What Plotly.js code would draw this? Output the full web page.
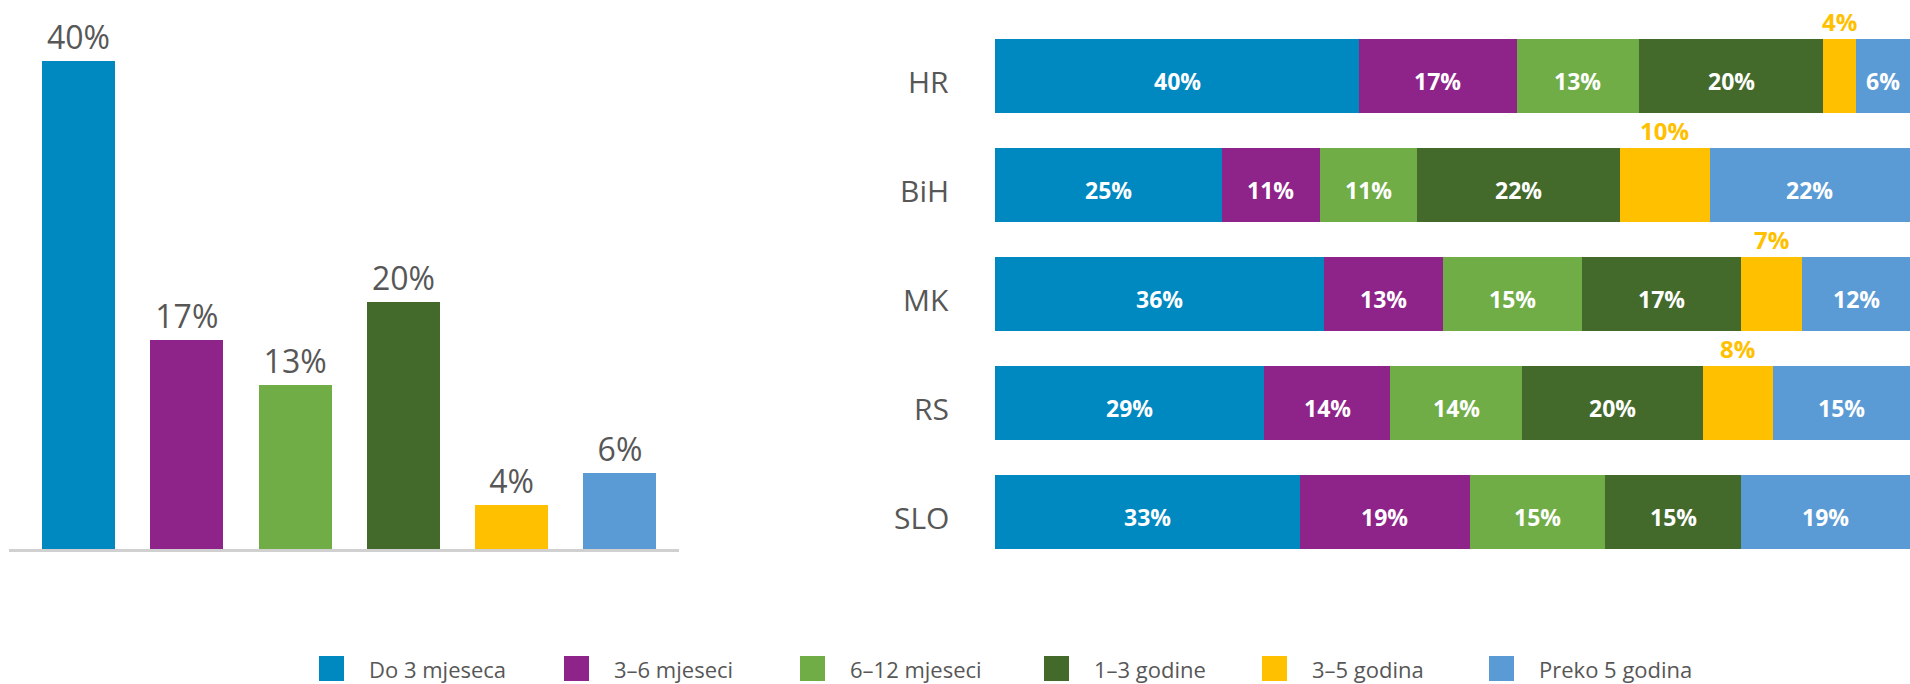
<!DOCTYPE html>
<html><head><meta charset="utf-8">
<script src="https://cdn.plot.ly/plotly-3.0.1.min.js"></script>
<style>html,body{margin:0;padding:0;background:#fff;}#chart{width:1910px;height:684px;}</style>
</head><body><div id="chart"></div>
<script>
// ---- data ----
const seriesNames = ['Do 3 mjeseca', '3–6 mjeseci', '6–12 mjeseci', '1–3 godine', '3–5 godina', 'Preko 5 godina'];
const seriesColors = ['#0088C1', '#8E2489', '#70AD47', '#436A2B', '#FFC000', '#5B9BD5'];
const overallValues = [40, 17.1, 13.4, 20.2, 3.6, 6.2];
const countries = ['HR', 'BiH', 'MK', 'RS', 'SLO'];
const valuesHR  = [39.8, 17.2, 13.4, 20.1, 3.6, 5.9];
const valuesBiH = [24.8, 10.7, 10.6, 22.2, 9.8, 21.9];
const valuesMK  = [36.0, 13.0, 15.1, 17.4, 6.7, 11.8];
const valuesRS  = [29.4, 13.8, 14.4, 19.8, 7.6, 15.0];
const valuesSLO = [33.3, 18.6, 14.8, 14.8, 0, 18.5];
const countryValues = [valuesHR, valuesBiH, valuesMK, valuesRS, valuesSLO];
const outsideSeries = 4; // index of the series labelled above the bars

// ---- layout helpers ----
const W = 1910, H = 684;
const px = x => x / W;
const py = y => (H - y) / H;
const FONT = 'Open Sans';
const GREY = '#575757';

const traces = [];
traces.push({
  type: 'bar', x: seriesNames, y: overallValues, xaxis: 'x', yaxis: 'y',
  marker: {color: seriesColors, line: {width: 0}},
  texttemplate: '%{y:.0f}%', textposition: 'outside', cliponaxis: false,
  textfont: {family: FONT, size: 32, color: GREY},
  showlegend: false, hoverinfo: 'none'
});
seriesNames.forEach((name, i) => {
  traces.push({
    type: 'bar', orientation: 'h', name: name,
    y: countries, x: countryValues.map(r => r[i]),
    xaxis: 'x2', yaxis: 'y2',
    marker: {color: seriesColors[i], line: {width: 0}},
    textposition: 'none',
    showlegend: false, hoverinfo: 'none'
  });
});

const annotations = [];
countries.forEach((c, k) => {
  const vals = countryValues[k];
  let start = 0;
  vals.forEach((v, i) => {
    const mid = start + v / 2;
    start += v;
    if (i === outsideSeries) {
      annotations.push({
        xref: 'x2', yref: 'y2', x: mid, y: c, yshift: 55,
        text: Math.round(v) + '%', showarrow: false,
        font: {family: FONT, size: 24, weight: 700, color: v > 0 ? seriesColors[outsideSeries] : '#ffffff'}
      });
    } else {
      annotations.push({
        xref: 'x2', yref: 'y2', x: mid, y: c, yshift: -5,
        text: Math.round(v) + '%', showarrow: false,
        font: {family: FONT, size: 23, weight: 700, color: '#ffffff'}
      });
    }
  });
  // category label
  annotations.push({
    xref: 'paper', yref: 'y2', x: px(951), y: c, yshift: -5,
    xanchor: 'right', yanchor: 'middle', showarrow: false, text: c,
    font: {family: FONT, size: 30, color: GREY}
  });
});

// manual legend
const legendLeft = [319, 564, 800, 1044, 1262, 1489];
const legendY = 668.5, sq = 25;
const shapes = [];
seriesNames.forEach((name, i) => {
  shapes.push({
    type: 'rect', xref: 'paper', yref: 'paper',
    x0: px(legendLeft[i]), x1: px(legendLeft[i] + sq),
    y0: py(legendY + sq / 2), y1: py(legendY - sq / 2),
    fillcolor: seriesColors[i], line: {width: 0}
  });
  annotations.push({
    xref: 'paper', yref: 'paper', x: px(legendLeft[i] + 48), y: py(legendY),
    xanchor: 'left', yanchor: 'middle', showarrow: false, text: name,
    font: {family: FONT, size: 22, color: GREY}
  });
});

const layout = {
  width: W, height: H,
  margin: {l: 0, r: 0, t: 0, b: 0, pad: 0},
  paper_bgcolor: '#ffffff', plot_bgcolor: 'rgba(0,0,0,0)',
  barmode: 'stack', bargap: 0.326,
  showlegend: false,
  font: {family: FONT, color: GREY},
  xaxis: {
    domain: [px(9), px(679)], type: 'category', range: [-0.642, 5.545],
    showline: true, linecolor: '#d0d0d0', linewidth: 3,
    showticklabels: false, ticks: '', showgrid: false, zeroline: false, fixedrange: true
  },
  yaxis: {
    domain: [py(549), py(20)], range: [0, 43.33], visible: false, fixedrange: true
  },
  xaxis2: {
    domain: [px(995), 1], range: [0, 100], anchor: 'y2', visible: false, fixedrange: true
  },
  yaxis2: {
    domain: [py(566.5), py(21.5)], anchor: 'x2', type: 'category',
    categoryarray: countries, range: [4.5, -0.5],
    showticklabels: false, ticks: '',
    showline: false, showgrid: false, zeroline: false, fixedrange: true
  },
  shapes: shapes,
  annotations: annotations
};

Plotly.newPlot('chart', traces, layout, {staticPlot: true, displayModeBar: false});
</script>
</body></html>
